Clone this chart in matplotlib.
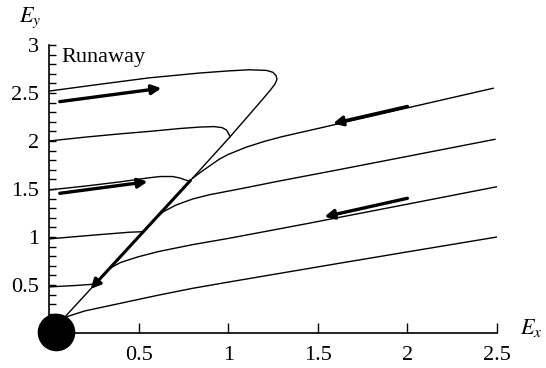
import numpy as np
import matplotlib
matplotlib.use("Agg")
import matplotlib.pyplot as plt
from matplotlib.ticker import MultipleLocator

plt.rcParams['font.family'] = ['Liberation Serif', 'DejaVu Serif']
plt.rcParams['mathtext.fontset'] = 'stix'

# top trajectory (starts at Ey=2.5) that turns back along the runaway line
top_x = [0.0, 0.3, 0.56, 0.84, 1.0, 1.12, 1.215, 1.25, 1.268, 1.272, 1.26, 1.235,
         1.19, 1.011, 0.79, 0.5, 0.233, 0.09]
top_y = [2.52, 2.595, 2.658, 2.708, 2.73, 2.742, 2.735, 2.715, 2.68, 2.64, 2.59, 2.53,
         2.43, 2.045, 1.59, 1.0, 0.46, 0.17]

# trajectories entering from the Ey axis
l2_x = [0.0, 0.2, 0.4, 0.56, 0.73, 0.84, 0.92, 0.965, 0.99, 1.0, 1.011]
l2_y = [2.0, 2.04, 2.075, 2.10, 2.13, 2.145, 2.15, 2.14, 2.115, 2.085, 2.045]
l3_x = [0.0, 0.2, 0.4, 0.55, 0.62, 0.69, 0.73, 0.76, 0.785]
l3_y = [1.49, 1.53, 1.575, 1.615, 1.63, 1.63, 1.615, 1.595, 1.58]
l4_x = [0.0, 0.25, 0.45, 0.524]
l4_y = [0.98, 1.02, 1.05, 1.055]
l5_x = [0.0, 0.15, 0.26]
l5_y = [0.48, 0.495, 0.51]

# trajectories coming in from the right
r1_x = [0.80, 0.85, 0.9, 0.95, 1.0, 1.1, 1.2, 1.3, 1.5, 2.0, 2.48]
r1_y = [1.61, 1.68, 1.745, 1.81, 1.86, 1.935, 1.995, 2.045, 2.13, 2.345, 2.55]
r2_x = [0.59, 0.64, 0.709, 0.8, 0.895, 1.081, 1.29, 1.6, 2.0, 2.49]
r2_y = [1.19, 1.265, 1.333, 1.395, 1.44, 1.507, 1.585, 1.695, 1.84, 2.018]
r3_x = [0.33, 0.4, 0.5, 0.615, 0.8, 1.0, 1.2, 1.45, 2.0, 2.5]
r3_y = [0.665, 0.735, 0.795, 0.85, 0.92, 0.985, 1.055, 1.143, 1.342, 1.524]
r4_x = [0.1, 0.2, 0.4, 0.6, 0.8, 1.0, 1.3, 1.6, 2.0, 2.5]
r4_y = [0.17, 0.23, 0.31, 0.39, 0.465, 0.53, 0.625, 0.72, 0.845, 1.0]

curves = [(top_x, top_y), (l2_x, l2_y), (l3_x, l3_y), (l4_x, l4_y), (l5_x, l5_y),
          (r1_x, r1_y), (r2_x, r2_y), (r3_x, r3_y), (r4_x, r4_y)]

# direction arrows: (tail, head)
arrows = [((0.06, 2.41), (0.627, 2.55)),
          ((0.06, 1.455), (0.55, 1.576)),
          ((2.0, 2.36), (1.585, 2.182)),
          ((2.0, 1.403), (1.537, 1.211))]
diag_arrow = ((0.79, 1.59), (0.233, 0.46))

fixed_point = (0.04, 0.015)

xtick_vals = [0.5, 1, 1.5, 2, 2.5]
xtick_labels = ['0.5', '1', '1.5', '2', '2.5']
ytick_vals = [0.5, 1, 1.5, 2, 2.5, 3]
ytick_labels = ['0.5', '1', '1.5', '2', '2.5', '3']

fig = plt.figure(figsize=(5.46, 3.68), dpi=100)
ax = fig.add_axes([49 / 546, 35 / 368, 448 / 546, 288 / 368])

for cx, cy in curves:
    ax.plot(cx, cy, color='black', lw=1.0, solid_capstyle='round')

for tail, head in arrows:
    ax.annotate('', xy=head, xytext=tail,
                arrowprops=dict(arrowstyle='-|>', color='black', lw=2.4,
                                mutation_scale=14, shrinkA=0, shrinkB=0))
ax.annotate('', xy=diag_arrow[1], xytext=diag_arrow[0],
            arrowprops=dict(arrowstyle='-|>', color='black', lw=2.2,
                            mutation_scale=14, shrinkA=0, shrinkB=0))

ax.scatter([fixed_point[0]], [fixed_point[1]], s=680, color='black',
           zorder=5, clip_on=False)

ax.text(0.07, 2.87, 'Runaway', fontsize=16, va='center', ha='left')

ax.set_xlim(0, 2.5)
ax.set_ylim(0, 3)
ax.spines['top'].set_visible(False)
ax.spines['right'].set_visible(False)
ax.spines['left'].set_linewidth(1.2)
ax.spines['bottom'].set_linewidth(1.2)

ax.set_xticks(xtick_vals)
ax.set_xticklabels(xtick_labels)
ax.set_yticks(ytick_vals)
ax.set_yticklabels(ytick_labels)
ax.yaxis.set_minor_locator(MultipleLocator(0.1))
ax.tick_params(axis='x', direction='in', length=7, width=1.0, labelsize=16, pad=9)
ax.tick_params(axis='y', which='both', direction='in', length=5, width=1.0,
               labelsize=16, pad=7)

fig.text(30 / 546, 1 - 18 / 368, '$E_y$', fontsize=16, ha='center', va='center')
fig.text(531 / 546, 1 - 328 / 368, '$E_x$', fontsize=16, ha='center', va='center')

fig.savefig('out.png', dpi=100)
